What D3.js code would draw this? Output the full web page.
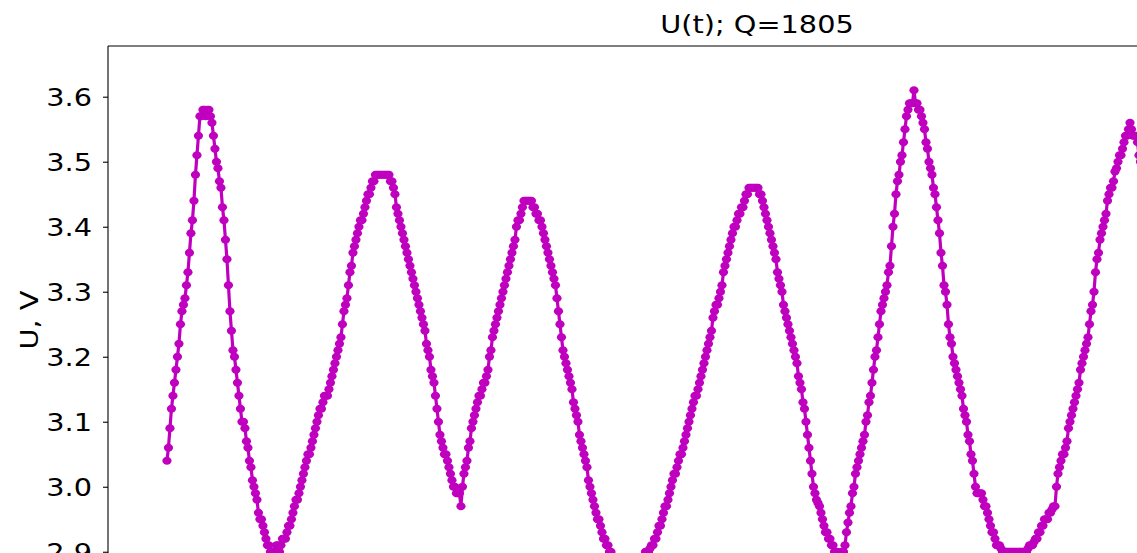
<!DOCTYPE html>
<html>
<head>
<meta charset="utf-8">
<script src="https://cdn.jsdelivr.net/npm/d3@7"></script>
<style>
  html, body { margin: 0; padding: 0; background: #fff; }
  svg { display: block; }
  text { font-family: "DejaVu Sans", sans-serif; fill: #000; }
</style>
</head>
<body>
<svg id="chart" width="1137" height="553"></svg>
<script>
// ---- data ----
const titleText = "U(t); Q=1805";
const yLabel = "U, V";
const yTicks = [2.9, 3.0, 3.1, 3.2, 3.3, 3.4, 3.5, 3.6];
const yTickLabels = ["2.9", "3.0", "3.1", "3.2", "3.3", "3.4", "3.5", "3.6"];
// axis limits (plot continues beyond the visible crop to the right and bottom)
const xDomain = [-39.3, 826];
const yDomain = [2.835, 3.678];
// voltage samples, uniform time step (sample index)
const voltage = [
 3.04,3.06,3.09,3.12,3.14,3.16,3.18,3.20,3.22,3.25,3.27,3.28,3.29,3.31,3.33,3.36,3.39,3.41,3.44,3.48,3.51,3.54,3.57,3.57,
 3.58,3.58,3.57,3.58,3.58,3.57,3.56,3.54,3.52,3.50,3.49,3.47,3.46,3.43,3.41,3.38,3.35,3.31,3.27,3.24,3.21,3.20,3.18,3.16,
 3.14,3.12,3.10,3.10,3.09,3.07,3.06,3.04,3.03,3.01,3.00,2.99,2.98,2.96,2.95,2.95,2.94,2.93,2.92,2.91,2.91,2.90,2.90,2.90,
 2.90,2.91,2.91,2.90,2.91,2.92,2.92,2.92,2.93,2.94,2.94,2.95,2.96,2.97,2.98,2.98,2.99,3.00,3.01,3.02,3.03,3.04,3.05,3.05,
 3.06,3.07,3.08,3.09,3.10,3.11,3.12,3.12,3.13,3.14,3.14,3.14,3.15,3.16,3.17,3.18,3.19,3.20,3.21,3.22,3.23,3.25,3.27,3.28,
 3.29,3.31,3.33,3.34,3.36,3.37,3.38,3.39,3.40,3.41,3.41,3.42,3.43,3.44,3.45,3.45,3.46,3.47,3.47,3.48,3.48,3.48,3.48,3.48,
 3.48,3.48,3.48,3.48,3.48,3.47,3.47,3.46,3.45,3.43,3.42,3.41,3.40,3.39,3.38,3.37,3.36,3.35,3.34,3.33,3.32,3.31,3.30,3.29,
 3.28,3.27,3.26,3.25,3.24,3.22,3.21,3.20,3.18,3.17,3.16,3.14,3.12,3.10,3.08,3.07,3.06,3.05,3.05,3.04,3.03,3.02,3.01,3.00,
 3.00,2.99,2.99,2.99,2.97,3.00,3.02,3.03,3.04,3.06,3.07,3.09,3.10,3.11,3.12,3.13,3.14,3.14,3.15,3.16,3.16,3.17,3.18,3.20,
 3.21,3.23,3.24,3.25,3.26,3.27,3.28,3.29,3.30,3.31,3.32,3.33,3.34,3.35,3.36,3.37,3.38,3.40,3.41,3.41,3.42,3.43,3.44,3.44,
 3.44,3.44,3.44,3.44,3.43,3.43,3.42,3.42,3.41,3.41,3.40,3.39,3.38,3.37,3.36,3.35,3.34,3.33,3.32,3.31,3.29,3.27,3.25,3.23,
 3.21,3.20,3.19,3.18,3.17,3.16,3.15,3.13,3.12,3.11,3.10,3.08,3.07,3.06,3.05,3.04,3.03,3.01,3.00,2.99,2.98,2.97,2.96,2.95,
 2.95,2.94,2.93,2.92,2.92,2.91,2.91,2.90,2.90,2.89,2.89,2.88,2.88,2.88,2.875,2.87,2.87,2.87,2.87,2.86,2.865,2.87,2.87,2.87,
 2.87,2.87,2.875,2.88,2.88,2.89,2.89,2.90,2.90,2.90,2.905,2.91,2.91,2.92,2.92,2.93,2.94,2.94,2.95,2.96,2.97,2.97,2.98,2.99,
 3.00,3.01,3.02,3.02,3.03,3.04,3.05,3.05,3.06,3.07,3.08,3.09,3.10,3.11,3.12,3.13,3.14,3.14,3.15,3.16,3.17,3.18,3.19,3.20,
 3.21,3.22,3.23,3.24,3.26,3.27,3.28,3.28,3.29,3.30,3.31,3.33,3.34,3.35,3.36,3.37,3.38,3.39,3.40,3.40,3.41,3.42,3.42,3.43,
 3.43,3.44,3.45,3.45,3.46,3.46,3.46,3.46,3.46,3.46,3.46,3.45,3.45,3.44,3.43,3.42,3.41,3.40,3.39,3.38,3.37,3.36,3.35,3.33,
 3.32,3.31,3.30,3.28,3.27,3.26,3.25,3.24,3.23,3.22,3.21,3.20,3.19,3.17,3.16,3.15,3.13,3.12,3.10,3.08,3.06,3.04,3.02,3.00,
 2.99,2.98,2.975,2.97,2.96,2.95,2.94,2.93,2.93,2.92,2.92,2.91,2.91,2.90,2.90,2.90,2.895,2.89,2.90,2.90,2.91,2.93,2.945,2.96,
 2.97,2.99,3.00,3.02,3.03,3.04,3.05,3.06,3.07,3.08,3.10,3.11,3.13,3.14,3.16,3.18,3.20,3.21,3.23,3.25,3.27,3.28,3.29,3.30,
 3.31,3.33,3.34,3.37,3.40,3.42,3.45,3.47,3.48,3.50,3.51,3.53,3.55,3.57,3.58,3.59,3.59,3.59,3.61,3.59,3.59,3.58,3.58,3.57,
 3.56,3.55,3.53,3.52,3.50,3.49,3.48,3.46,3.45,3.43,3.41,3.39,3.36,3.34,3.31,3.30,3.28,3.25,3.23,3.22,3.20,3.19,3.18,3.17,
 3.16,3.15,3.14,3.12,3.11,3.10,3.08,3.07,3.05,3.04,3.02,3.00,2.99,2.99,2.99,2.99,2.98,2.97,2.97,2.96,2.95,2.94,2.93,2.93,
 2.92,2.91,2.91,2.91,2.905,2.90,2.90,2.90,2.90,2.90,2.90,2.90,2.90,2.90,2.90,2.90,2.90,2.90,2.90,2.90,2.90,2.90,2.905,2.91,
 2.91,2.91,2.915,2.92,2.92,2.93,2.93,2.94,2.94,2.95,2.95,2.95,2.96,2.96,2.965,2.97,2.97,3.00,3.02,3.03,3.04,3.05,3.05,3.06,
 3.07,3.09,3.10,3.11,3.12,3.13,3.14,3.15,3.16,3.18,3.19,3.20,3.21,3.22,3.23,3.25,3.27,3.28,3.30,3.33,3.35,3.36,3.38,3.39,
 3.40,3.41,3.42,3.44,3.45,3.46,3.46,3.47,3.485,3.49,3.50,3.51,3.51,3.52,3.53,3.54,3.54,3.55,3.56,3.55,3.54,3.54,3.54,3.53,
 3.51,3.50,3.49,3.48,3.46
];

// ---- drawing ----
const W = 1137, H = 553;
const plot = { left: 108, top: 46, right: 1406, bottom: 594 };
const color = "#bf00bf";
const textScaleX = 1.15;

const svg = d3.select("#chart");
svg.append("rect").attr("width", W).attr("height", H).attr("fill", "#fff");

const x = d3.scaleLinear().domain(xDomain).range([plot.left, plot.right]);
const y = d3.scaleLinear().domain(yDomain).range([plot.bottom, plot.top]);

const data = voltage.map((v, i) => ({ t: i, v }));

svg.append("clipPath").attr("id", "plotclip")
  .append("rect")
  .attr("x", plot.left).attr("y", plot.top)
  .attr("width", plot.right - plot.left).attr("height", plot.bottom - plot.top);

const g = svg.append("g").attr("clip-path", "url(#plotclip)");

g.append("path")
  .datum(data)
  .attr("fill", "none")
  .attr("stroke", color)
  .attr("stroke-width", 3.2)
  .attr("stroke-linejoin", "round")
  .attr("d", d3.line().x(d => x(d.t)).y(d => y(d.v)));

g.selectAll("ellipse")
  .data(data)
  .join("ellipse")
  .attr("cx", d => x(d.t))
  .attr("cy", d => y(d.v))
  .attr("rx", 4.6)
  .attr("ry", 4.0)
  .attr("fill", color);

// y axis
const yAxis = d3.axisLeft(y)
  .tickValues(yTicks)
  .tickFormat((d, i) => yTickLabels[i])
  .tickSize(5)
  .tickPadding(11);

const ya = svg.append("g")
  .attr("transform", `translate(${plot.left},0)`)
  .call(yAxis);
ya.select(".domain").remove();
ya.selectAll(".tick line").attr("stroke", "#000").attr("stroke-width", 1.1);
ya.selectAll(".tick text")
  .attr("font-family", "DejaVu Sans")
  .attr("font-size", 25)
  .attr("fill", "#000")
  .each(function () {
    const t = d3.select(this);
    const xx = +t.attr("x");
    t.attr("x", null)
     .attr("dy", "0.35em")
     .attr("transform", `translate(${xx},0) scale(${textScaleX},1)`);
  });

// spines (top and left visible)
svg.append("line")
  .attr("x1", plot.left).attr("x2", plot.right)
  .attr("y1", plot.top).attr("y2", plot.top)
  .attr("stroke", "#000").attr("stroke-width", 1.1);
svg.append("line")
  .attr("x1", plot.left).attr("x2", plot.left)
  .attr("y1", plot.top).attr("y2", plot.bottom)
  .attr("stroke", "#000").attr("stroke-width", 1.1);

// title
svg.append("text")
  .attr("transform", `translate(${(plot.left + plot.right) / 2},33) scale(${textScaleX},1)`)
  .attr("text-anchor", "middle")
  .attr("font-size", 25)
  .text(titleText);

// y label
svg.append("text")
  .attr("transform", `translate(38,${(plot.top + plot.bottom) / 2}) rotate(-90) scale(${textScaleX},1)`)
  .attr("text-anchor", "middle")
  .attr("font-size", 25)
  .text(yLabel);
</script>
</body>
</html>
